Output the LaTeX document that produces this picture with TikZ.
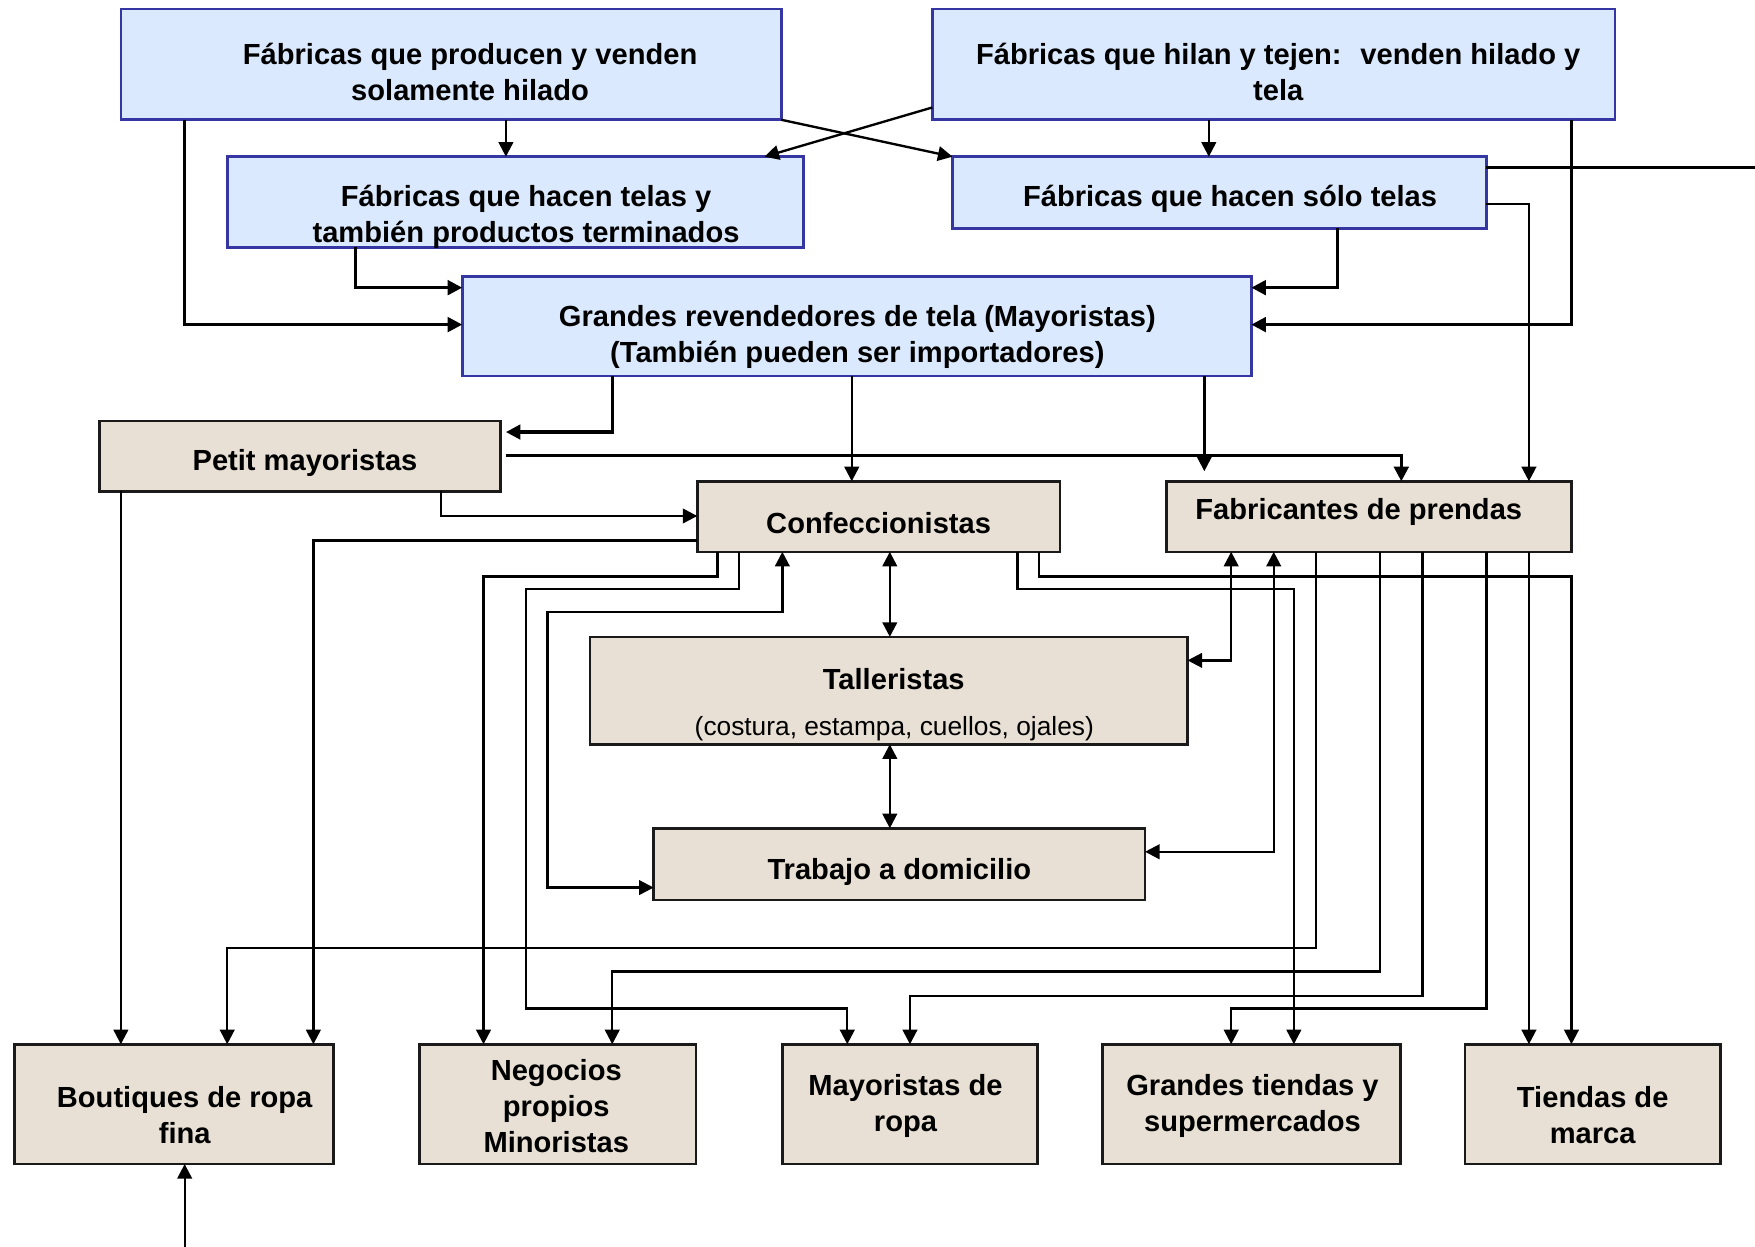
\documentclass[tikz,border=0pt]{standalone}
\usepackage{fontspec}
\setmainfont{Liberation Sans}
\usetikzlibrary{arrows.meta,calc}
\definecolor{bfill}{HTML}{DAE9FD}
\definecolor{bline}{HTML}{3636A2}
\definecolor{tfill}{HTML}{E8E0D4}
\definecolor{tline}{HTML}{1A1A1A}
\begin{document}
\begin{tikzpicture}[x=1pt,y=-1pt,
  bluebox/.style={draw=bline,fill=bfill,line width=2.3pt,inner sep=0pt,outer sep=0pt},
  tanbox/.style={draw=tline,fill=tfill,line width=2.3pt,inner sep=0pt,outer sep=0pt},
  txt/.style={font=\fontsize{26}{32}\selectfont\bfseries,align=center,inner sep=0pt},
  small/.style={font=\fontsize{23.5}{28}\selectfont,align=center,inner sep=0pt},
  ln/.style={line width=2.1pt,draw=black},
  thick ln/.style={line width=2.8pt},
  arr/.style={ln,-{Triangle[length=13pt,width=13pt]}},
  dbl/.style={ln,{Triangle[length=13pt,width=13pt]}-{Triangle[length=13pt,width=13pt]}}]
\useasboundingbox[fill=white] (0,0) rectangle (1568,1114);
% boxes
\node[bluebox,minimum width=590pt,minimum height=99pt] (A) at (403,57.5) {};
\node[bluebox,minimum width=610pt,minimum height=99pt] (B) at (1138,57.5) {};
\node[bluebox,minimum width=515pt,minimum height=81pt] (C) at (460.5,180.5) {};
\node[bluebox,minimum width=477pt,minimum height=64pt] (D) at (1089.5,172) {};
\node[bluebox,minimum width=705pt,minimum height=89pt] (E) at (765.5,291.5) {};
\node[tanbox,minimum width=358pt,minimum height=63pt] (F) at (268,407.5) {};
\node[tanbox,minimum width=324pt,minimum height=63pt] (G) at (785,461.5) {};
\node[tanbox,minimum width=362pt,minimum height=63pt] (H) at (1223,461.5) {};
\node[tanbox,minimum width=534pt,minimum height=96pt] (I) at (794,617) {};
\node[tanbox,minimum width=439pt,minimum height=64pt] (J) at (803.5,772) {};
\node[tanbox,minimum width=285pt,minimum height=107pt] (K) at (155.5,986.5) {};
\node[tanbox,minimum width=247pt,minimum height=107pt] (L) at (498.5,986.5) {};
\node[tanbox,minimum width=228pt,minimum height=107pt] (M) at (813,986.5) {};
\node[tanbox,minimum width=266pt,minimum height=107pt] (N) at (1118,986.5) {};
\node[tanbox,minimum width=228pt,minimum height=107pt] (O) at (1423,986.5) {};
% connectors
\draw[arr] (A.south -| 452,0) -- (C.north -| 452,0);
\draw[arr] (A.south east) -- (D.north west);
\draw[arr] (B.west |- 0,96) -- (C.north -| 683,0);
\draw[arr] (B.south -| 1080,0) -- (D.north -| 1080,0);
\draw[arr,thick ln] (B.south -| 1404,0) |- (E.east |- 0,290);
\coordinate (edgeR) at (1568,150);
\draw[ln,thick ln] (D.east |- 0,150) -- (edgeR);
\draw[arr] (D.east |- 0,182) -| (H.north -| 1366,0);
\draw[arr,thick ln] (D.south -| 1195,0) |- (E.east |- 0,257);
\draw[arr,thick ln] (C.south -| 318,0) |- (E.west |- 0,257);
\draw[arr,thick ln] (A.south -| 165,0) |- (E.west |- 0,290);
\draw[arr,thick ln,shorten >=5pt] (E.south -| 547,0) |- (F.east |- 0,386);
\draw[arr] (E.south -| 761,0) -- (G.north -| 761,0);
\draw[arr,shorten >=9pt] (E.south -| 1076,0) -- (H.north -| 1076,0);
\draw[arr,thick ln,shorten <=5pt] (F.east |- 0,407) -| (H.north -| 1252,0);
\draw[arr] (F.south -| 394,0) |- (G.west |- 0,461);
\draw[arr] (F.south -| 108,0) -- (K.north -| 108,0);
\draw[arr] (G.west |- 0,483) -| (K.north -| 280,0);
\draw[arr] (G.south -| 641,0) |- (432,515) -- (L.north -| 432,0);
\draw[arr] (G.south -| 660,0) |- (470,526) |- (757,901) -- (M.north -| 757,0);
\draw[dbl] (G.south -| 699,0) |- (489,547) |- (J.west |- 0,793);
\draw[dbl] (G.south -| 795,0) -- (I.north -| 795,0);
\draw[dbl] (I.south -| 795,0) -- (J.north -| 795,0);
\draw[dbl] (H.south -| 1100,0) |- (I.east |- 0,590);
\draw[dbl] (H.south -| 1138,0) |- (J.east |- 0,761);
\draw[arr] (G.south -| 928,0) |- (1404,515) -- (O.north -| 1404,0);
\draw[arr] (G.south -| 909,0) |- (1156,526) -- (N.north -| 1156,0);
\draw[arr] (H.south -| 1176,0) |- (203,847) -- (K.north -| 203,0);
\draw[arr] (H.south -| 1233,0) |- (547,868) -- (L.north -| 547,0);
\draw[arr] (H.south -| 1271,0) |- (813,890) -- (M.north -| 813,0);
\draw[arr] (H.south -| 1328,0) |- (1100,901) -- (N.north -| 1100,0);
\draw[arr] (H.south -| 1366,0) -- (O.north -| 1366,0);
\coordinate (inK) at (165,1114);
\draw[arr] (inK) -- (K.south -| 165,0);
% texts
\node[txt] (tA) at (420,64) {Fábricas que producen y venden\\solamente hilado};
\node[txt] (tB) at (1142,64) {Fábricas que hilan y tejen:~ venden hilado y\\tela};
\node[txt] (tC) at (470,194) {Fábricas que hacen telas y\\también productos terminados};
\node[txt] (tD) at (1099,178) {Fábricas que hacen sólo telas};
\node[txt] (tE) at (766,301) {Grandes revendedores de tela (Mayoristas)\\(También pueden ser importadores)};
\node[txt] (tF) at (272.5,414) {Petit mayoristas};
\node[txt] (tG) at (785,467) {Confeccionistas};
\node[txt] (tH) at (1214,457) {Fabricantes de prendas};
\node[txt] (tI) at (798.5,607) {Talleristas};
\node[small] (tI2) at (799,651) {(costura, estampa, cuellos, ojales)};
\node[txt] (tJ) at (803.5,779) {Trabajo a domicilio};
\node[txt] (tK) at (165,996.5) {Boutiques de ropa\\fina};
\node[txt] (tL) at (497,988.5) {Negocios\\propios\\Minoristas};
\node[txt] (tM) at (809,988) {Mayoristas de\\ropa};
\node[txt] (tN) at (1119,988) {Grandes tiendas y\\supermercados};
\node[txt] (tO) at (1423,996.5) {Tiendas de\\marca};
\end{tikzpicture}
\end{document}
